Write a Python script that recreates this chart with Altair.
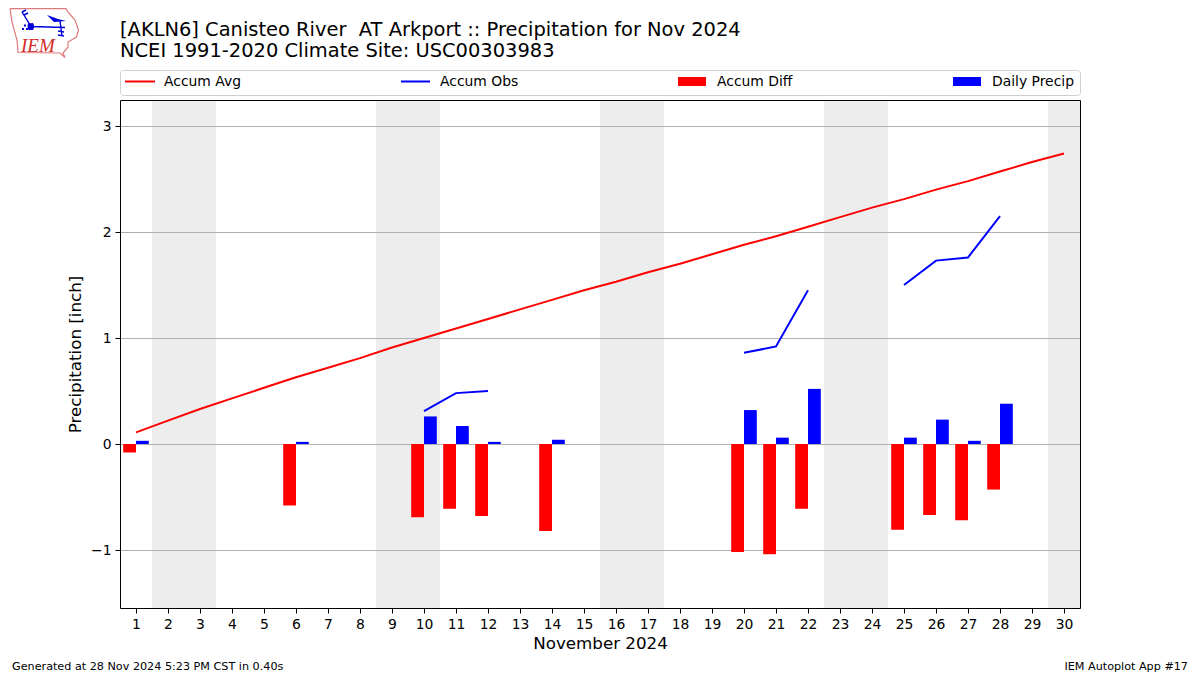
import altair as alt
import pandas as pd

# ---- data ----
days = list(range(1, 31))
accum_avg = [0.11, 0.22, 0.33, 0.43, 0.53, 0.63, 0.72, 0.81, 0.91, 1.00,
             1.09, 1.18, 1.27, 1.36, 1.45, 1.53, 1.62, 1.70, 1.79, 1.88,
             1.96, 2.05, 2.14, 2.23, 2.31, 2.40, 2.48, 2.57, 2.66, 2.74]
obs_days = [10, 11, 12, 20, 21, 22, 25, 26, 27, 28]
obs_runs = [1, 1, 1, 2, 2, 2, 3, 3, 3, 3]
accum_obs = [0.31, 0.48, 0.50, 0.86, 0.92, 1.45, 1.50, 1.73, 1.76, 2.15]
bar_days = [1, 6, 10, 11, 12, 14, 20, 21, 22, 25, 26, 27, 28]
accum_diff = [-0.08, -0.58, -0.69, -0.61, -0.68, -0.82, -1.02, -1.04, -0.61, -0.81, -0.67, -0.72, -0.43]
daily_precip = [0.03, 0.02, 0.26, 0.17, 0.02, 0.04, 0.32, 0.06, 0.52, 0.06, 0.23, 0.03, 0.38]
weekend_start = [1.5, 8.5, 15.5, 22.5, 29.5]
weekend_end = [3.5, 10.5, 17.5, 24.5, 30.5]
y_ticks = [-1, 0, 1, 2, 3]
title_lines = ["[AKLN6] Canisteo River\u00a0\u00a0AT Arkport :: Precipitation for Nov 2024",
               "NCEI 1991-2020 Climate Site: USC00303983"]
FONT = "DejaVu Sans"

x_scale = alt.Scale(domain=[0.5, 30.5], nice=False, zero=False)
y_scale = alt.Scale(domain=[-1.5471698, 3.2452830], nice=False, zero=False)

x_axis = alt.Axis(values=days, format="d", grid=False, title="November 2024", labelFlush=False,
                  labelOverlap=False, labelFontSize=13.9, labelFont=FONT, labelColor="black",
                  titleFont=FONT, titleFontSize=16.7, titleFontWeight="normal", titleColor="black",
                  tickColor="black", tickSize=5, tickWidth=1, domain=False, labelPadding=4, titlePadding=5)
y_axis = alt.Axis(values=y_ticks, format="d", grid=False, title="Precipitation [inch]",
                  labelFontSize=13.9, labelFont=FONT, labelColor="black",
                  titleFont=FONT, titleFontSize=16.7, titleFontWeight="normal", titleColor="black",
                  tickColor="black", tickSize=5, tickWidth=1, domain=False, labelPadding=4, titlePadding=6)

bands = alt.Chart(pd.DataFrame({"s": weekend_start, "e": weekend_end})).mark_rect(color="#ededed").encode(
    x=alt.X("s:Q", scale=x_scale, axis=x_axis), x2="e:Q")

grid = alt.Chart(pd.DataFrame({"v": y_ticks})).mark_rule(color="#b0b0b0", strokeWidth=1, yOffset=0.5).encode(
    y=alt.Y("v:Q", scale=y_scale, axis=y_axis))

bars_df = pd.DataFrame({"day": bar_days, "diff": accum_diff, "precip": daily_precip})
diff_bars = alt.Chart(bars_df).transform_calculate(a="datum.day - 0.4").mark_rect(color="#ff0000").encode(
    x=alt.X("a:Q", scale=x_scale, axis=x_axis), x2="day:Q",
    y=alt.Y("diff:Q", scale=y_scale, axis=y_axis), y2=alt.Y2(datum=0))
precip_bars = alt.Chart(bars_df).transform_calculate(b="datum.day + 0.4").mark_rect(color="#0000ff").encode(
    x=alt.X("day:Q", scale=x_scale, axis=x_axis), x2="b:Q",
    y=alt.Y("precip:Q", scale=y_scale, axis=y_axis), y2=alt.Y2(datum=0))

avg_line = alt.Chart(pd.DataFrame({"day": days, "v": accum_avg})).mark_line(color="#ff0000", strokeWidth=2).encode(
    x=alt.X("day:Q", scale=x_scale, axis=x_axis), y=alt.Y("v:Q", scale=y_scale, axis=y_axis))
obs_line = alt.Chart(pd.DataFrame({"day": obs_days, "v": accum_obs, "run": obs_runs})).mark_line(
    color="#0000ff", strokeWidth=2).encode(
    x=alt.X("day:Q", scale=x_scale, axis=x_axis), y=alt.Y("v:Q", scale=y_scale, axis=y_axis), detail="run:N")

# page pixel -> plot pixel
OX, OY = 120.0, 100.0


def px(v):
    return alt.value(v - OX)


def py(v):
    return alt.value(v - OY)


def text_at(label, x, y, size, color="black", align="left", font=FONT, **kw):
    return alt.Chart(pd.DataFrame({"t": [label]})).mark_text(
        align=align, baseline="middle", fontSize=size, font=font, color=color, **kw
    ).encode(x=px(x), y=py(y), text="t:N")


one = pd.DataFrame({"a": [0]})

# black frame drawn above the weekend bands
frame = alt.Chart(one).mark_rect(fill=None, stroke="black", strokeWidth=1).encode(
    x=px(120.5), x2=px(1080.5), y=py(100.5), y2=py(608.5))


def legend_line(x1, x2, y, color):
    return alt.Chart(one).mark_rule(color=color, strokeWidth=2).encode(x=px(x1), x2=px(x2), y=py(y))


def legend_box(x1, x2, y1, y2, color):
    return alt.Chart(one).mark_rect(color=color).encode(x=px(x1), x2=px(x2), y=py(y1), y2=py(y2))


legend_frame = alt.Chart(one).mark_rect(fill="white", stroke="#d0d0d0", strokeWidth=1, cornerRadius=3).encode(
    x=px(120.5), x2=px(1080.5), y=py(70.5), y2=py(95.5))

legend_parts = [
    legend_frame,
    legend_line(125, 155, 81.5, "#ff0000"), text_at("Accum Avg", 164, 81.5, 13.9),
    legend_line(401, 430, 81.5, "#0000ff"), text_at("Accum Obs", 440, 81.5, 13.9),
    legend_box(678, 706, 77, 86, "#ff0000"), text_at("Accum Diff", 717, 81.5, 13.9),
    legend_box(953, 981, 77, 86, "#0000ff"), text_at("Daily Precip", 992, 81.5, 13.9),
]

footer_parts = [
    text_at("Generated at 28 Nov 2024 5:23 PM CST in 0.40s", 12, 666.5, 11.2),
    text_at("IEM Autoplot App #17", 1188, 666.5, 11.2, align="right"),
]

# IEM logo (outline of Iowa plus a small station-model glyph)
LOGO_C = (44.0, 32.0)
LOGO_R = 40.0


def logo_path(groups):
    parts = []
    for pts in groups:
        coords = [f"{(x - LOGO_C[0]) / LOGO_R:.3f},{(y - LOGO_C[1]) / LOGO_R:.3f}" for x, y in pts]
        parts.append("M" + "L".join(coords))
    return "".join(parts)


iowa = [(10, 8.6), (66, 8.6), (68, 12), (75, 20), (78.5, 30), (76.5, 37), (68, 42), (68, 47), (63, 53),
        (65, 57.5), (60, 53), (18, 52.5), (17, 40), (12, 22), (10, 8.6)]
staff = [[(31, 26.5), (65, 27.5)], [(31, 26.5), (22, 12)], [(22, 12), (26, 10)], [(24, 15), (28, 13)],
         [(60, 21), (62, 36)], [(58, 31), (64, 32)], [(58, 35), (64, 36)]]
pennant = [[(47, 15), (58, 19), (66, 21), (54, 22), (47, 15)],
           [(28, 23.5), (33, 23), (34.5, 26.5), (33, 30), (28.5, 30), (27.5, 26.5), (28, 23.5)],
           [(24, 24.5), (26, 24.5), (26, 26.5), (24, 26.5), (24, 24.5)],
           [(22, 28), (24, 28), (24, 30), (22, 30), (22, 28)],
           [(26, 28), (28, 28), (28, 30), (26, 30), (26, 28)]]


def logo_shape(groups, **kw):
    return alt.Chart(one).mark_point(shape=logo_path(groups), size=(2 * LOGO_R) ** 2, **kw).encode(
        x=px(LOGO_C[0]), y=py(LOGO_C[1]))


logo = [
    logo_shape([iowa], filled=False, stroke="#df7a7a", strokeWidth=1.2, opacity=1),
    logo_shape(staff, filled=False, stroke="#0000dd", strokeWidth=1.4, opacity=1),
    logo_shape(pennant, filled=True, fill="#0000dd", opacity=1, strokeWidth=0),
    text_at("IEM", 21, 45.5, 19, color="#d42a2a", font="Liberation Serif", fontStyle="italic"),
]

chart = alt.layer(
    bands, grid, diff_bars, precip_bars, avg_line, obs_line, frame,
    *legend_parts, *footer_parts, *logo,
).properties(
    width=960,
    height=508,
    title=alt.TitleParams(text=title_lines, anchor="start", frame="group", font=FONT, fontSize=19.46,
                          fontWeight="normal", color="black", lineHeight=21, offset=-55.5),
    padding={"left": 112, "top": 92, "right": 110, "bottom": 67},
    autosize=alt.AutoSizeParams(type="none"),
).configure_view(stroke=None)

chart.save("out.html", embed_options={"renderer": "svg", "actions": False})
